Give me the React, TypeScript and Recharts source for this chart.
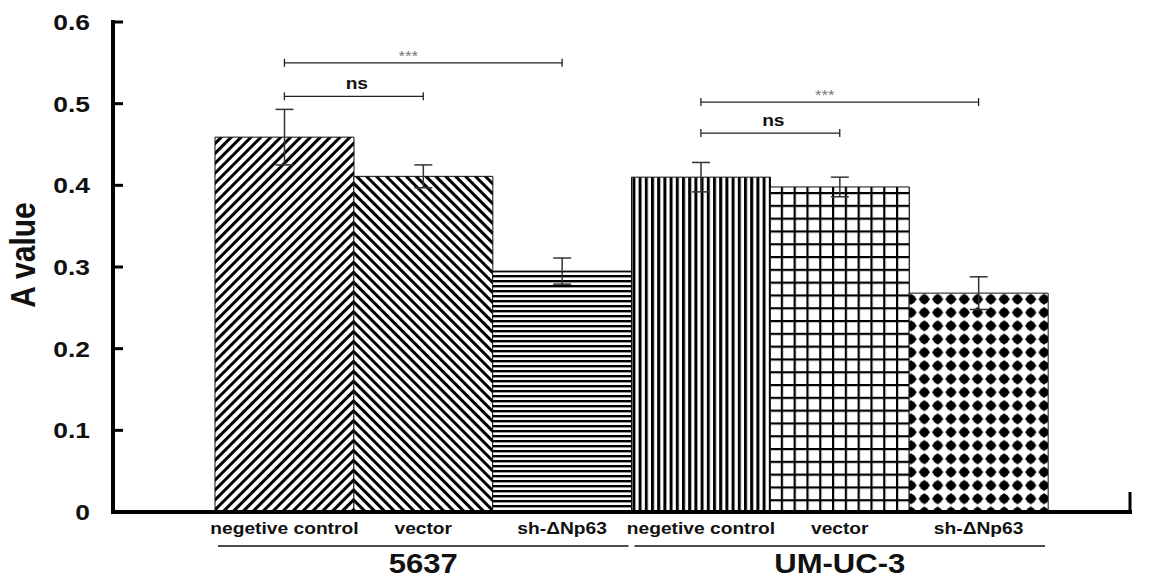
import React from 'react';
import { BarChart, Bar, XAxis, YAxis, Cell, ErrorBar, ReferenceLine } from 'recharts';

const FONT = '"Liberation Sans", Arial, Helvetica, sans-serif';

// ---- data ----
const groups = ['5637', '5637', '5637', 'UM-UC-3', 'UM-UC-3', 'UM-UC-3'];
const conditions = ['negetive control', 'vector', 'sh-ΔNp63', 'negetive control', 'vector', 'sh-ΔNp63'];
const barKeys = ['5637-nc', '5637-vec', '5637-sh', 'umuc3-nc', 'umuc3-vec', 'umuc3-sh'];
const aValues = [0.459, 0.411, 0.295, 0.41, 0.398, 0.268];
const aErrors = [0.034, 0.014, 0.016, 0.018, 0.012, 0.02];
const yTicks = [0, 0.1, 0.2, 0.3, 0.4, 0.5, 0.6];
const yTickLabels = ['0', '0.1', '0.2', '0.3', '0.4', '0.5', '0.6'];

// significance brackets
const bracketFrom = ['5637-nc', '5637-nc', 'umuc3-nc', 'umuc3-nc'];
const bracketTo = ['5637-sh', '5637-vec', 'umuc3-sh', 'umuc3-vec'];
const bracketY = [0.55, 0.509, 0.502, 0.464];
const bracketLabels = ['***', 'ns', '***', 'ns'];

const data = barKeys.map((k, i) => ({
  key: k,
  group: groups[i],
  condition: conditions[i],
  value: aValues[i],
  err: aErrors[i],
}));

const patternIds = ['hatchFwd', 'hatchBack', 'hatchH', 'hatchV', 'gridP', 'diamondP'];

const YTick = (props: any) => {
  const { x, y, payload } = props;
  const idx = yTicks.indexOf(payload.value);
  return (
    <g>
      <line x1={x} y1={y} x2={x + 10} y2={y} stroke="#000" strokeWidth={3} />
      <text
        transform={`translate(${x - 23},${y + 8}) scale(1.2,1)`}
        textAnchor="end"
        fontFamily={FONT}
        fontWeight="bold"
        fontSize={22}
        fill="#111"
      >
        {yTickLabels[idx] ?? String(payload.value)}
      </text>
    </g>
  );
};

const RightEndTick = (props: any) => {
  const { x, y } = props;
  return <line x1={x} y1={y} x2={x} y2={y - 20} stroke="#000" strokeWidth={3} />;
};

const XTick = (props: any) => {
  const { x, y, payload } = props;
  const i = barKeys.indexOf(payload.value);
  return (
    <text
      transform={`translate(${x},${y + 22}) scale(1.2,1)`}
      textAnchor="middle"
      fontFamily={FONT}
      fontWeight="bold"
      fontSize={16}
      fill="#111"
    >
      {conditions[i]}
    </text>
  );
};

const GroupTick = (props: any) => {
  const { x, y, payload } = props;
  const half = typeof payload.offset === 'number' && payload.offset > 0 ? payload.offset : 208;
  return (
    <g>
      <line x1={x - half + 3} x2={x + half - 3} y1={y + 4} y2={y + 4} stroke="#111" strokeWidth={1.5} />
      <text
        transform={`translate(${x},${y + 31}) scale(1.15,1)`}
        textAnchor="middle"
        fontFamily={FONT}
        fontWeight="bold"
        fontSize={27}
        fill="#111"
      >
        {payload.value}
      </text>
    </g>
  );
};

const makeBracket = (label: string) => (p: any) => {
  const { x1, y1, x2, y2 } = p;
  const cx = (x1 + x2) / 2;
  const isStars = label === '***';
  return (
    <g>
      <line x1={x1} y1={y1} x2={x2} y2={y2} stroke="#222" strokeWidth={1.3} />
      <line x1={x1} y1={y1 - 4} x2={x1} y2={y1 + 4} stroke="#222" strokeWidth={1.3} />
      <line x1={x2} y1={y2 - 4} x2={x2} y2={y2 + 4} stroke="#222" strokeWidth={1.3} />
      <text
        transform={`translate(${cx + (isStars ? -15 : 3)},${y1 + (isStars ? -2 : -7)}) scale(1.2,1)`}
        textAnchor="middle"
        fontFamily={FONT}
        fontWeight={isStars ? 'normal' : 'bold'}
        fontSize={isStars ? 14 : 16}
        fill={isStars ? '#777' : '#111'}
      >
        {label}
      </text>
    </g>
  );
};

const YLabel = (props: any) => {
  const vb = props.viewBox || { x: 0, y: 22, width: 113, height: 490 };
  const cx = vb.x + 25;
  const cy = vb.y + vb.height / 2 - 12;
  return (
    <text
      transform={`translate(${cx + 10},${cy}) scale(1.15,1) rotate(-90)`}
      textAnchor="middle"
      fontFamily={FONT}
      fontWeight="bold"
      fontSize={30}
      fill="#111"
    >
      A value
    </text>
  );
};

export default function App() {
  return (
    <div style={{ position: 'absolute', left: 0, top: 0, width: 1159, height: 578, background: '#fff' }}>
      <BarChart
        width={1159}
        height={578}
        data={data}
        margin={{ top: 22, right: 0, bottom: 0, left: 0 }}
        barCategoryGap={0}
        barGap={0}
      >
        <defs>
          <pattern id="hatchFwd" patternUnits="userSpaceOnUse" width={7} height={7} patternTransform="rotate(45)">
            <rect width={7} height={7} fill="#fff" />
            <rect x={0} y={0} width={3} height={7} fill="#000" />
          </pattern>
          <pattern id="hatchBack" patternUnits="userSpaceOnUse" width={7} height={7} patternTransform="rotate(-45)">
            <rect width={7} height={7} fill="#fff" />
            <rect x={0} y={0} width={3} height={7} fill="#000" />
          </pattern>
          <pattern id="hatchH" patternUnits="userSpaceOnUse" width={5} height={5}>
            <rect width={5} height={5} fill="#fff" />
            <rect x={0} y={0} width={5} height={2.4} fill="#000" />
          </pattern>
          <pattern id="hatchV" patternUnits="userSpaceOnUse" width={6.2} height={6.2}>
            <rect width={6.2} height={6.2} fill="#fff" />
            <rect x={0} y={0} width={3} height={6.2} fill="#000" />
          </pattern>
          <pattern id="gridP" patternUnits="userSpaceOnUse" width={12.8} height={12.8}>
            <rect width={12.8} height={12.8} fill="#fff" />
            <rect x={0} y={0} width={2.2} height={12.8} fill="#000" />
            <rect x={0} y={0} width={12.8} height={2.2} fill="#000" />
          </pattern>
          <pattern id="diamondP" patternUnits="userSpaceOnUse" width={13.3} height={13.3}>
            <rect width={13.3} height={13.3} fill="#fff" />
            <polygon points="6.65,0.9 12.4,6.65 6.65,12.4 0.9,6.65" fill="#000" />
            <circle cx={6.65} cy={6.65} r={4.6} fill="#000" />
          </pattern>
        </defs>

        <XAxis
          dataKey="key"
          type="category"
          interval={0}
          tick={<XTick />}
          tickLine={false}
          tickSize={0}
          tickMargin={0}
          axisLine={{ stroke: '#000', strokeWidth: 4, strokeLinecap: 'square' }}
          padding={{ left: 102, right: 82 }}
          height={30}
        />
        <XAxis
          xAxisId="g"
          dataKey="group"
          type="category"
          allowDuplicatedCategory={false}
          interval={0}
          tick={<GroupTick />}
          tickLine={false}
          tickSize={0}
          tickMargin={0}
          axisLine={false}
          padding={{ left: 102, right: 82 }}
          height={36}
        />
        <YAxis
          type="number"
          domain={[0, 0.6]}
          ticks={yTicks}
          interval={0}
          width={113}
          tick={<YTick />}
          tickLine={false}
          tickSize={0}
          tickMargin={0}
          axisLine={{ stroke: '#000', strokeWidth: 4, strokeLinecap: 'square' }}
          label={(p: any) => <YLabel {...p} />}
        />
        <YAxis
          yAxisId="r"
          orientation="right"
          type="number"
          domain={[0, 0.6]}
          allowDataOverflow
          ticks={[0]}
          width={29}
          tick={<RightEndTick />}
          tickLine={false}
          tickSize={0}
          tickMargin={0}
          axisLine={false}
        />

        <Bar dataKey="value" isAnimationActive={false} stroke="#111" strokeWidth={1}>
          {data.map((d, i) => (
            <Cell key={d.key} fill={`url(#${patternIds[i]})`} />
          ))}
          <ErrorBar dataKey="err" width={9} stroke="#333" strokeWidth={1.5} isAnimationActive={false} />
        </Bar>

        {bracketFrom.map((f, i) => (
          <ReferenceLine
            key={`br-${i}`}
            segment={[
              { x: f, y: bracketY[i] },
              { x: bracketTo[i], y: bracketY[i] },
            ]}
            ifOverflow="visible"
            shape={makeBracket(bracketLabels[i])}
          />
        ))}
      </BarChart>
    </div>
  );
}
